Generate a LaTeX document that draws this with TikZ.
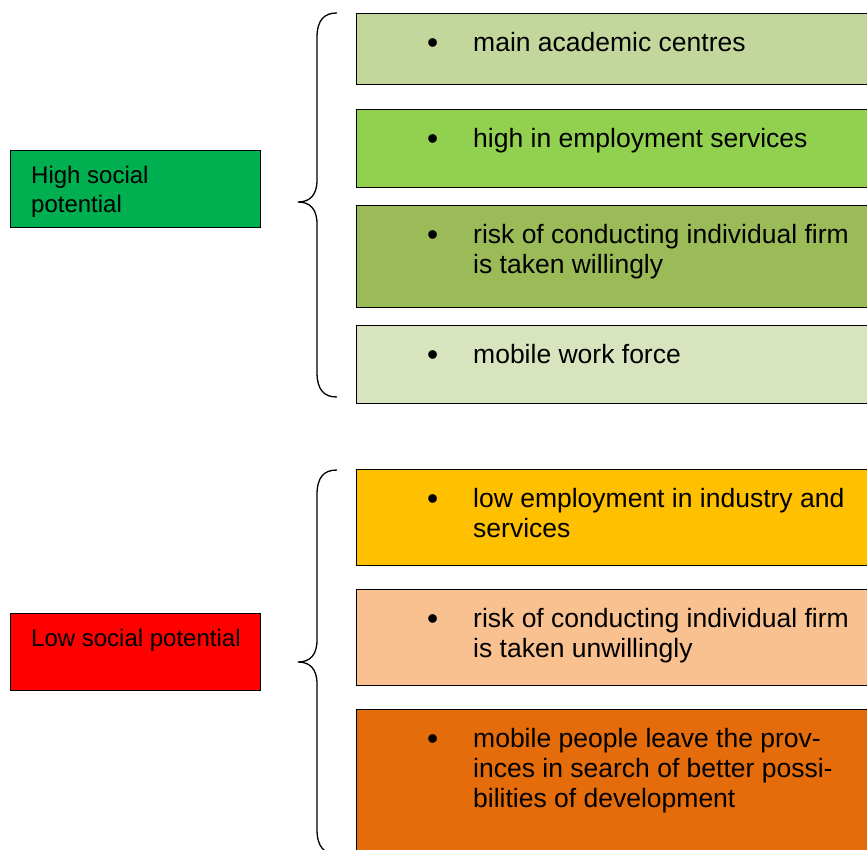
\documentclass[tikz,border=0pt]{standalone}
\usepackage{fontspec}
\setmainfont{Liberation Sans}

\definecolor{highgreen}{HTML}{00B050}
\definecolor{lowred}{HTML}{FF0000}
\definecolor{olivelight}{HTML}{C3D69B}
\definecolor{limegreen}{HTML}{92D050}
\definecolor{olive}{HTML}{9BBB59}
\definecolor{olivepale}{HTML}{D7E4BD}
\definecolor{amber}{HTML}{FFC000}
\definecolor{peach}{HTML}{F9C090}
\definecolor{burnt}{HTML}{E46C0A}

\tikzset{
  cell/.style={draw=black, line width=1.4pt, anchor=north west, inner sep=0pt},
  itembox/.style={cell, minimum width=560pt},
  sidebox/.style={cell, minimum width=250pt, minimum height=77pt},
  itemtext/.style={anchor=base west, inner sep=0pt},
  sidetext/.style={anchor=base west, inner sep=0pt},
  curly/.style={line width=1.3pt, line join=round}
}

\newcommand{\bulletline}[1]{\parbox[t]{390pt}{\fontsize{26.5}{30}\selectfont\raggedright
  \leavevmode\llap{\raisebox{-2pt}{\scalebox{1.2}{\textbullet}}\hspace{35pt}}#1}}
\newcommand{\sideline}[1]{\parbox[t]{225pt}{\fontsize{24}{29}\selectfont\raggedright #1}}

\begin{document}
\begin{tikzpicture}[x=1pt, y=-1pt]

  \useasboundingbox (0,0) rectangle (867,849);
  \clip (0,0) rectangle (867,849);

  % high social potential
  \node[sidebox, fill=highgreen] (hs) at (10,150) {};
  \node[sidetext] (hst) at ([shift={(21,33)}]hs.north west) {\sideline{High social\\potential}};

  \node[itembox, fill=olivelight, minimum height=71pt] (h1) at (356,13) {};
  \node[itembox, fill=limegreen, minimum height=78pt] (h2) at (356,109) {};
  \node[itembox, fill=olive, minimum height=102pt] (h3) at (356,205) {};
  \node[itembox, fill=olivepale, minimum height=78pt] (h4) at (356,325) {};

  \node[itemtext] (h1t) at ([shift={(117,38)}]h1.north west) {\bulletline{main academic centres}};
  \node[itemtext] (h2t) at ([shift={(117,38)}]h2.north west) {\bulletline{high in employment services}};
  \node[itemtext] (h3t) at ([shift={(117,38)}]h3.north west) {\bulletline{risk of conducting individual firm\\is taken willingly}};
  \node[itemtext] (h4t) at ([shift={(117,38)}]h4.north west) {\bulletline{mobile work force}};

  \draw[curly] (337,13) .. controls (324,13) and (317,20) .. (317,38) -- (317,180)
    .. controls (317,195) and (310,202) .. (298,202)
    .. controls (310,202) and (317,209) .. (317,224) -- (317,372)
    .. controls (317,390) and (324,397) .. (337,397);

  % low social potential
  \node[sidebox, fill=lowred] (ls) at (10,613) {};
  \node[sidetext] (lst) at ([shift={(21,33)}]ls.north west) {\sideline{Low social potential}};

  \node[itembox, fill=amber, minimum height=96pt] (l1) at (356,469) {};
  \node[itembox, fill=peach, minimum height=96pt] (l2) at (356,589) {};
  \node[itembox, fill=burnt, minimum height=160pt] (l3) at (356,709) {};

  \node[itemtext] (l1t) at ([shift={(117,38)}]l1.north west) {\bulletline{low employment in industry and\\services}};
  \node[itemtext] (l2t) at ([shift={(117,38)}]l2.north west) {\bulletline{risk of conducting individual firm\\is taken unwillingly}};
  \node[itemtext] (l3t) at ([shift={(117,38)}]l3.north west) {\bulletline{mobile people leave the prov-\\inces in search of better possi-\\bilities of development}};

  \draw[curly] (337,470) .. controls (324,470) and (317,477) .. (317,495) -- (317,640)
    .. controls (317,655) and (310,662) .. (298,662)
    .. controls (310,662) and (317,669) .. (317,684) -- (317,829)
    .. controls (317,847) and (324,854) .. (337,854);

\end{tikzpicture}
\end{document}
